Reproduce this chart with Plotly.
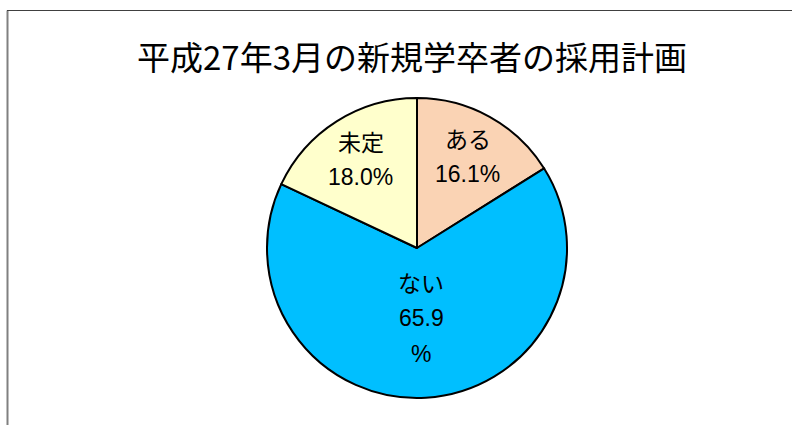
import math
import plotly.graph_objects as go

labels = ["ある", "ない", "未定"]
values = [16.1, 65.9, 18.0]
value_lines = [["16.1%"], ["65.9", "%"], ["18.0%"]]
colors = ["#FAD3B4", "#00BFFF", "#FFFFCC"]
title = "平成27年3月の新規学卒者の採用計画"

W, H = 792, 425
cx, cy, R = 417, 248, 150
label_radius = [0.70, 0.47, 0.70]   # fraction of radius where each label block sits
line_gap = 36                        # px between label lines

fig = go.Figure(go.Pie(
    labels=labels,
    values=values,
    sort=False,
    direction="clockwise",
    rotation=0,
    marker=dict(colors=colors, line=dict(color="black", width=2)),
    textinfo="none",
    showlegend=False,
    hoverinfo="label+percent",
    domain=dict(x=[(cx - R) / W, (cx + R) / W], y=[(H - cy - R) / H, (H - cy + R) / H]),
))

annotations = [dict(
    text=title, x=412 / W, y=1 - 56 / H, xref="paper", yref="paper",
    showarrow=False, xanchor="center", yanchor="middle",
    font=dict(family="Noto Sans CJK JP", size=33, color="black"),
)]

total = sum(values)
cum = 0.0
for lab, v, vl, rf in zip(labels, values, value_lines, label_radius):
    mid = (cum + v / 2) / total * 2 * math.pi
    cum += v
    px = cx + rf * R * math.sin(mid)
    py = cy - rf * R * math.cos(mid)
    lines = [lab] + vl
    n = len(lines)
    for i, t in enumerate(lines):
        ly = py + (i - (n - 1) / 2) * line_gap
        is_label = i == 0
        annotations.append(dict(
            text=t, x=px / W, y=1 - ly / H, xref="paper", yref="paper",
            showarrow=False, xanchor="center", yanchor="middle",
            font=dict(family="Noto Sans CJK JP" if is_label else "Liberation Sans Narrow, Liberation Sans",
                      size=23 if is_label else 23, color="black"),
        ))

fig.update_layout(
    width=W, height=H,
    margin=dict(l=0, r=0, t=0, b=0),
    paper_bgcolor="white",
    plot_bgcolor="white",
    annotations=annotations,
    shapes=[
        dict(type="line", xref="paper", yref="paper", x0=7.5 / W, x1=7.5 / W, y0=1 - 10.5 / H, y1=0,
             line=dict(color="#808080", width=2)),
        dict(type="line", xref="paper", yref="paper", x0=7 / W, x1=1, y0=1 - 10.5 / H, y1=1 - 10.5 / H,
             line=dict(color="#404040", width=1)),
    ],
)

fig.write_html("out.html", config={"displayModeBar": False},
               post_script="document.body.style.margin='0';window.dispatchEvent(new Event('resize'));")
